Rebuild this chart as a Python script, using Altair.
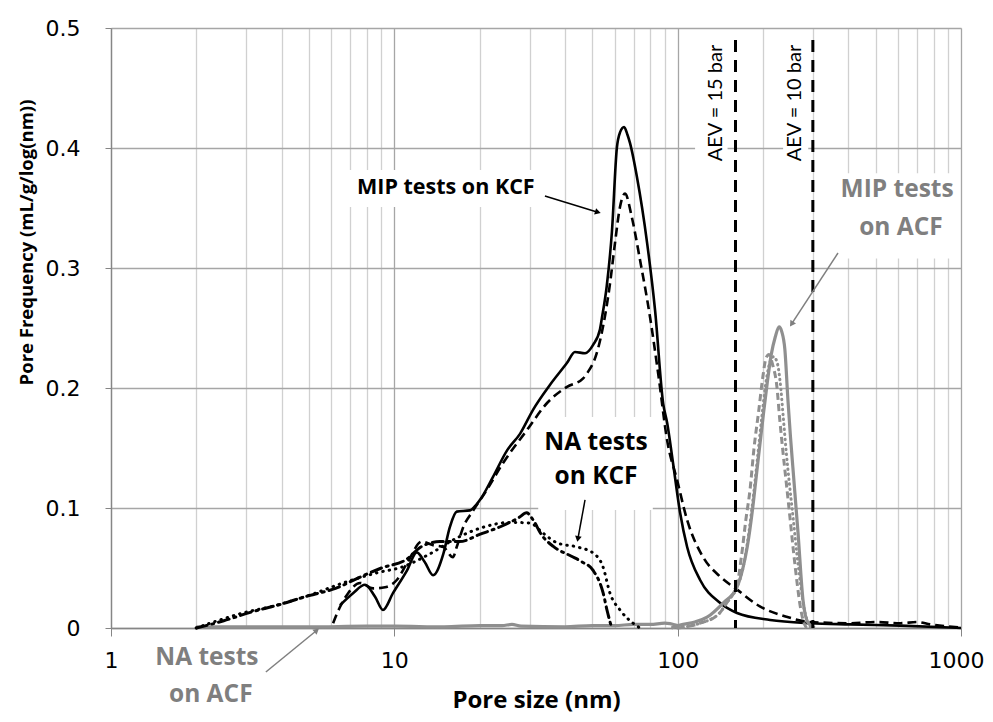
import altair as alt
import pandas as pd

# ---------------- data ----------------
# MIP tests on KCF (black)
mip_kcf1_x = [6.43, 7.15, 7.88, 8.55, 9.12, 9.89, 11.09, 12.0, 12.8, 13.7, 14.9, 15.7, 16.6, 18.5, 19.0, 20.1,
              22.3, 25.0, 27.8, 30.9, 35.4, 40.7, 43.4, 47.1, 50.3, 53.2, 54.0, 56.2, 58.6, 61.0, 62.6, 64.7,
              66.5, 67.9, 71.8, 78.0, 83.2, 88.9, 91.8, 96.3, 102, 108, 120, 141, 162, 212, 294, 406, 610, 1000]
mip_kcf1_y = [0.019, 0.029, 0.036, 0.026, 0.015, 0.029, 0.048, 0.063, 0.055, 0.044, 0.062, 0.084, 0.097, 0.098, 0.100, 0.107,
              0.126, 0.148, 0.162, 0.182, 0.2025, 0.221, 0.230, 0.229, 0.236, 0.249, 0.258, 0.285, 0.330, 0.400, 0.413, 0.4175,
              0.411, 0.404, 0.376, 0.321, 0.265, 0.187, 0.171, 0.1375, 0.096, 0.0675, 0.040, 0.021, 0.0125, 0.0067, 0.004, 0.003, 0.002, 0.0]

mip_kcf2_x = [6.08, 6.43, 6.87, 7.57, 8.41, 9.27, 10.2, 11.09, 12.5, 13.7, 14.9, 16.1, 16.6, 17.5, 19.0, 21.2,
              24.2, 29.4, 34.6, 40.7, 46.4, 47.8, 51.8, 55.3, 57.7, 60.1, 62.6, 65.2, 68.8, 73.6, 79.9, 85.7,
              91.7, 99.6, 108, 123, 141, 162, 195, 242, 294, 406, 500, 610, 700, 778, 1000]
mip_kcf2_y = [0.004, 0.0175, 0.029, 0.0375, 0.033, 0.034, 0.040, 0.054, 0.072, 0.069, 0.0675, 0.059, 0.0675, 0.084, 0.098, 0.115,
              0.1375, 0.165, 0.1875, 0.201, 0.208, 0.212, 0.229, 0.259, 0.287, 0.321, 0.351, 0.362, 0.343, 0.307, 0.259, 0.209,
              0.157, 0.123, 0.090, 0.059, 0.043, 0.032, 0.018, 0.0094, 0.005, 0.004, 0.005, 0.004, 0.005, 0.003, 0.0005]

# NA tests on KCF (black)
na_kcf1_x = [2.0, 2.42, 2.92, 3.85, 5.04, 6.59, 8.69, 10.7, 13.4, 16.6, 20.6, 25.6, 30.1, 33.5, 37.5, 44.2,
             50.3, 54.5, 57.7, 62.6, 69.6, 73.6]
na_kcf1_y = [0.0, 0.0067, 0.0125, 0.019, 0.0275, 0.0375, 0.046, 0.051, 0.062, 0.075, 0.084, 0.088, 0.0875, 0.079, 0.071, 0.0675,
             0.0625, 0.051, 0.029, 0.015, 0.004, 0.0]

na_kcf2_x = [2.0, 2.5, 3.1, 4.0, 5.0, 6.2, 7.5, 9.0, 11.0, 12.5, 14.5, 17.0, 20.0, 24.0, 27.5, 29.3, 30.9,
             33.0, 36.4, 42.0, 46.0, 50.3, 54.6, 56.3, 58.5]
na_kcf2_y = [0.0, 0.006, 0.013, 0.020, 0.027, 0.033, 0.042, 0.050, 0.057, 0.068, 0.072, 0.072, 0.078, 0.085, 0.092, 0.096, 0.090,
             0.078, 0.068, 0.060, 0.055, 0.048, 0.029, 0.015, 0.0]

# MIP tests on ACF (grey)
mip_acf1_x = [95, 102, 115, 127, 145, 162, 170, 176, 184, 191, 200, 207, 214, 221, 228, 233, 239, 245, 250, 255,
              266, 277, 289, 305]
mip_acf1_y = [0.0, 0.0025, 0.005, 0.009, 0.021, 0.034, 0.050, 0.0675, 0.100, 0.134, 0.175, 0.204, 0.228, 0.2425, 0.251, 0.247,
              0.232, 0.190, 0.160, 0.134, 0.079, 0.023, 0.004, 0.0]

mip_acf2_x = [100, 120, 140, 150, 162, 168, 174, 180, 186, 193, 200, 205, 210, 216, 224, 229, 235, 242, 249, 256,
              264, 270, 277, 285]
mip_acf2_y = [0.0, 0.004, 0.012, 0.022, 0.036, 0.060, 0.090, 0.115, 0.150, 0.180, 0.210, 0.225, 0.228, 0.220, 0.201, 0.175,
              0.148, 0.120, 0.0925, 0.065, 0.0375, 0.020, 0.0067, 0.0]

mip_acf3_x = [100, 120, 140, 150, 162, 170, 176, 184, 191, 198, 205, 212, 218, 224, 230, 236, 242, 248, 256, 264,
              272, 280, 288, 295]
mip_acf3_y = [0.0, 0.004, 0.012, 0.022, 0.034, 0.050, 0.070, 0.105, 0.140, 0.175, 0.205, 0.222, 0.226, 0.222, 0.205, 0.175,
              0.145, 0.120, 0.090, 0.060, 0.035, 0.015, 0.005, 0.0]

# NA tests on ACF (grey)
na_acf_x = [2.0, 3.0, 5.0, 8.0, 10.0, 15.0, 20.0, 24.0, 26.0, 28.0, 40.0, 50.0, 60.0, 70.0, 80.0, 90.0, 100.0]
na_acf_y = [0.001, 0.001, 0.001, 0.0015, 0.0015, 0.001, 0.002, 0.002, 0.003, 0.0015, 0.001, 0.002, 0.002, 0.003, 0.003, 0.004, 0.002]

# air-entry values (nm)
aev_x = [160, 300]
aev_labels = ["AEV = 15 bar", "AEV = 10 bar"]

x_ticks = [1, 2, 3, 4, 5, 6, 7, 8, 9, 10, 20, 30, 40, 50, 60, 70, 80, 90,
           100, 200, 300, 400, 500, 600, 700, 800, 900, 1000]
y_ticks = [0, 0.1, 0.2, 0.3, 0.4, 0.5]

# annotations
ann_text = ["MIP tests on KCF", "NA tests", "on KCF", "MIP tests", "on ACF", "NA tests", "on ACF"]
ann_x = [15.2, 51.5, 51.5, 595, 614, 2.18, 2.25]
ann_y = [0.3667, 0.1542, 0.1258, 0.365, 0.3333, -0.025, -0.0558]
ann_col = ["black", "black", "black", "grey", "grey", "grey", "grey"]
ann_size = [21.5, 24.5, 24.5, 24.5, 24.5, 24.5, 24.5]

aev_text_x = [136.6, 259.7]
aev_text_y = [0.4375, 0.4375]

box_x = [6.7, 32.2, 115.2, 235.6, 359.4]
box_x2 = [34.5, 81.7, 150.0, 289.0, 953.0]
box_y = [0.3817, 0.1758, 0.494, 0.494, 0.379]
box_y2 = [0.3508, 0.0983, 0.380, 0.380, 0.308]

arrow_x = [34.0, 47.1, 368, 3.52]
arrow_y = [0.360, 0.1067, 0.3125, -0.0367]
arrow_x2 = [51.9, 44.5, 253.5, 5.29]
arrow_y2 = [0.3467, 0.075, 0.254, -0.0025]
arrow_ang = [107.1, 190.4, 213.3, 50.6]
arrow_col = ["black", "black", "grey", "grey"]

# ---------------- chart ----------------
BLACK = "#000000"
GREY_LINE = "#8f8f8f"
GREY_TEXT = "#7f7f7f"
FONT_B = "Open Sans"

xscale = alt.Scale(type="log", domain=[1, 1000], base=10)
yscale = alt.Scale(domain=[0, 0.5], nice=False, zero=False)

decades = "indexof([1,10,100,1000], datum.value) >= 0"

x_axis = alt.Axis(
    values=x_ticks,
    grid=True,
    gridColor={"condition": {"test": decades, "value": "#a6a6a6"}, "value": "#d0d0d0"},
    gridWidth=1.3,
    tickColor={"condition": {"test": decades, "value": "#868686"}, "value": "transparent"},
    tickSize=8,
    domainColor="#868686",
    domainWidth=1.3,
    labelExpr=decades + " ? format(datum.value, 'd') : ''",
    labelFont="DejaVu Sans",
    labelFontSize=22,
    labelColor="black",
    labelBaseline="middle",
    labelPadding=24,
    labelOffset={"condition": {"test": "datum.value == 1000", "value": -5}, "value": 0},
    labelFlush=False,
    labelOverlap=False,
    title="Pore size (nm)",
    titleFont=FONT_B,
    titleFontSize=24,
    titleFontWeight="bold",
    titleColor="black",
    titleBaseline="middle",
    titleY=72,
)

y_axis = alt.Axis(
    values=y_ticks,
    grid=True,
    gridColor="#a6a6a6",
    gridWidth=1.3,
    tickColor="#868686",
    tickSize=6,
    domainColor="#868686",
    domainWidth=1.3,
    labelExpr="datum.value == 0 ? '0' : format(datum.value, '.1f')",
    labelFont="DejaVu Sans",
    labelFontSize=22,
    labelColor="black",
    labelPadding=25,
    labelFlush=False,
    title="Pore Frequency  (mL/g/log(nm))",
    titleFont=FONT_B,
    titleFontSize=18.5,
    titleFontWeight="bold",
    titleColor="black",
    titleAngle=270,
    titleAlign="center",
    titleBaseline="middle",
    titleX=-85,
    titleY=214,
)

def series(xs, ys):
    return pd.DataFrame({"x": xs, "y": ys})

base_x = alt.X("x:Q", scale=xscale, axis=x_axis)
base_y = alt.Y("y:Q", scale=yscale, axis=y_axis)

# white boxes behind labels (hide gridlines as in the original)
boxes = alt.Chart(pd.DataFrame({"x": box_x, "x2": box_x2, "y": box_y, "y2": box_y2})).mark_rect(
    color="white"
).encode(x=base_x, x2="x2:Q", y=base_y, y2="y2:Q")

def line(xs, ys, color, width, dash=None, cap="butt"):
    kw = dict(color=color, strokeWidth=width, strokeCap=cap, interpolate="monotone", clip=False)
    if dash is not None:
        kw["strokeDash"] = dash
    return alt.Chart(series(xs, ys)).mark_line(**kw).encode(
        x=alt.X("x:Q", scale=xscale), y=alt.Y("y:Q", scale=yscale))

layers = [
    boxes,
    line(na_acf_x, na_acf_y, GREY_LINE, 3.2),
    line(na_kcf2_x, na_kcf2_y, BLACK, 3, [11, 5, 2, 5], "round"),
    line(na_kcf1_x, na_kcf1_y, BLACK, 3, [0.5, 6], "round"),
    line(mip_kcf2_x, mip_kcf2_y, BLACK, 2.6, [9, 5]),
    line(mip_kcf1_x, mip_kcf1_y, BLACK, 2.6),
    line(mip_acf3_x, mip_acf3_y, GREY_LINE, 3, [0.5, 4.5], "round"),
    line(mip_acf2_x, mip_acf2_y, GREY_LINE, 3, [7, 4]),
    line(mip_acf1_x, mip_acf1_y, GREY_LINE, 3.2),
]

# AEV vertical dashed lines
aev_df = pd.DataFrame({"x": aev_x, "lab": aev_labels})
aev_rules = alt.Chart(aev_df).mark_rule(color=BLACK, strokeWidth=3, strokeDash=[12, 8]).encode(
    x=alt.X("x:Q", scale=xscale), y=alt.value(12), y2=alt.value(600))
layers.append(aev_rules)

aev_txt = alt.Chart(pd.DataFrame({"x": aev_text_x, "y": aev_text_y, "t": aev_labels})).mark_text(
    angle=270, font="Lato", fontSize=20, color=BLACK, align="center", baseline="middle"
).encode(x=alt.X("x:Q", scale=xscale), y=alt.Y("y:Q", scale=yscale), text="t:N")
layers.append(aev_txt)

# arrows
arr_df = pd.DataFrame({"x": arrow_x, "y": arrow_y, "x2": arrow_x2, "y2": arrow_y2,
                       "ang": arrow_ang, "c": arrow_col})
col_scale = alt.Scale(domain=["black", "grey"], range=[BLACK, GREY_TEXT])
arr_lines = alt.Chart(arr_df).mark_rule(strokeWidth=1.5, clip=False).encode(
    x=alt.X("x:Q", scale=xscale), x2="x2:Q", y=alt.Y("y:Q", scale=yscale), y2="y2:Q",
    color=alt.Color("c:N", scale=col_scale, legend=None))
arr_heads = alt.Chart(arr_df).mark_point(shape="triangle", filled=True, size=45, opacity=1, clip=False).encode(
    x=alt.X("x2:Q", scale=xscale), y=alt.Y("y2:Q", scale=yscale),
    angle=alt.Angle("ang:Q", scale=None),
    color=alt.Color("c:N", scale=col_scale, legend=None))
layers += [arr_lines, arr_heads]

# text labels
ann_df = pd.DataFrame({"x": ann_x, "y": ann_y, "t": ann_text, "c": ann_col, "s": ann_size})
ann = alt.Chart(ann_df).mark_text(font=FONT_B, fontWeight="bold", align="center",
                                  baseline="middle", clip=False).encode(
    x=alt.X("x:Q", scale=xscale), y=alt.Y("y:Q", scale=yscale), text="t:N",
    size=alt.Size("s:Q", scale=None),
    color=alt.Color("c:N", scale=col_scale, legend=None))
layers.append(ann)

chart = alt.layer(*layers).properties(
    width=850, height=600,
    autosize=alt.AutoSizeParams(type="none"),
    padding={"left": 103, "top": 20, "right": 24, "bottom": 86},
).configure_view(stroke=None).configure(background="white")

chart.save("out.html", embed_options={"renderer": "svg", "actions": False})
